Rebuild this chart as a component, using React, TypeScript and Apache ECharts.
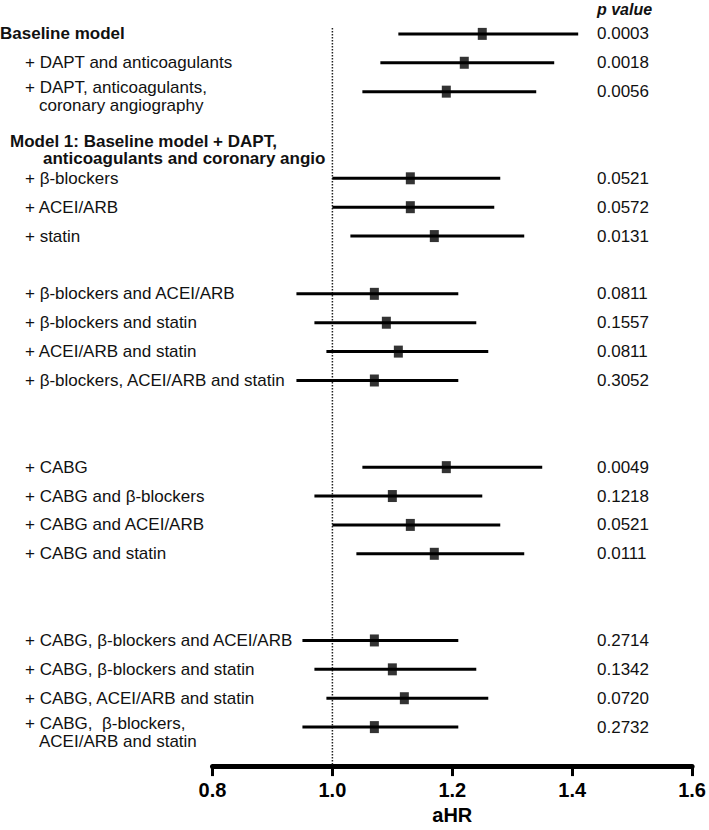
import React, { useEffect, useRef } from "react";
import * as echarts from "echarts";

const FONT = '"Liberation Sans", Arial, Helvetica, sans-serif';

const rowLabels: string[] = [
  "Baseline model",
  "+ DAPT and anticoagulants",
  "+ DAPT, anticoagulants,\ncoronary angiography",
  "+ β-blockers",
  "+ ACEI/ARB",
  "+ statin",
  "+ β-blockers and ACEI/ARB",
  "+ β-blockers and statin",
  "+ ACEI/ARB and statin",
  "+ β-blockers, ACEI/ARB and statin",
  "+ CABG",
  "+ CABG and β-blockers",
  "+ CABG and ACEI/ARB",
  "+ CABG and statin",
  "+ CABG, β-blockers and ACEI/ARB",
  "+ CABG, β-blockers and statin",
  "+ CABG, ACEI/ARB and statin",
  "+ CABG,  β-blockers,\nACEI/ARB and statin",
];
const rowIndex: number[] = [0, 1, 2, 5, 6, 7, 9, 10, 11, 12, 15, 16, 17, 18, 21, 22, 23, 24];
const hr: number[] = [1.25, 1.22, 1.19, 1.13, 1.13, 1.17, 1.07, 1.09, 1.11, 1.07, 1.19, 1.1, 1.13, 1.17, 1.07, 1.1, 1.12, 1.07];
const ciLow: number[] = [1.11, 1.08, 1.05, 1.0, 1.0, 1.03, 0.94, 0.97, 0.99, 0.94, 1.05, 0.97, 1.0, 1.04, 0.95, 0.97, 0.99, 0.95];
const ciHigh: number[] = [1.41, 1.37, 1.34, 1.28, 1.27, 1.32, 1.21, 1.24, 1.26, 1.21, 1.35, 1.25, 1.28, 1.32, 1.21, 1.24, 1.26, 1.21];
const pValues: string[] = [
  "0.0003", "0.0018", "0.0056", "0.0521", "0.0572", "0.0131", "0.0811", "0.1557", "0.0811",
  "0.3052", "0.0049", "0.1218", "0.0521", "0.0111", "0.2714", "0.1342", "0.0720", "0.2732",
];
const headerText = "Model 1: Baseline model + DAPT,\nanticoagulants and coronary angio";
const headerRow = 4;
const xTicks: number[] = [0.8, 1.0, 1.2, 1.4, 1.6];
const refValue = 1.0;
const pHeader = "p value";
const xName = "aHR";

export default function App() {
  const ref = useRef<HTMLDivElement>(null);
  useEffect(() => {
    if (!ref.current) return;
    const chart = echarts.init(ref.current, undefined, { renderer: "svg" });
    const txt = "#111";
    const option: any = {
      animation: false,
      backgroundColor: "#fff",
      grid: { left: 212.5, right: 14.5, top: 5, bottom: 61 },
      xAxis: {
        type: "value",
        position: "bottom",
        min: xTicks[0],
        max: xTicks[xTicks.length - 1],
        interval: 0.2,
        splitLine: { show: false },
        axisLine: { show: true, onZero: false, lineStyle: { color: "#000", width: 5 } },
        axisTick: { show: true, length: 10, lineStyle: { color: "#000", width: 3 } },
        axisLabel: {
          formatter: (v: number) => v.toFixed(1),
          color: "#000",
          fontFamily: FONT,
          fontWeight: "bold",
          fontSize: 20,
          margin: 14,
        },
        name: xName,
        nameLocation: "middle",
        nameGap: 38,
        nameTextStyle: { color: "#000", fontFamily: FONT, fontWeight: "bold", fontSize: 20 },
      },
      yAxis: {
        type: "value",
        inverse: true,
        min: -1,
        max: 25.35,
        show: false,
      },
      graphic: [
        {
          type: "text",
          x: 597,
          y: 9,
          style: {
            text: pHeader,
            font: `italic bold 16px ${FONT}`,
            fill: txt,
            verticalAlign: "middle",
          },
        },
      ],
      series: [
        {
          type: "line",
          data: [
            [refValue, -0.2],
            [refValue, 25.35],
          ],
          symbol: "none",
          silent: true,
          lineStyle: { type: "dotted", width: 1.5, color: "#222" },
          z: 1,
        },
        {
          type: "custom",
          clip: false,
          encode: { x: [0, 1], y: 2 },
          data: rowIndex.map((r, i) => [ciLow[i], ciHigh[i], r]),
          renderItem: (params: any, api: any) => {
            const a = api.coord([api.value(0), api.value(2)]);
            const b = api.coord([api.value(1), api.value(2)]);
            return {
              type: "line",
              shape: { x1: a[0], y1: a[1], x2: b[0], y2: b[1] },
              style: { stroke: "#000", lineWidth: 3 },
            };
          },
          z: 2,
        },
        {
          type: "scatter",
          data: rowIndex.map((r, i) => [hr[i], r]),
          symbol: "rect",
          symbolSize: [9, 12],
          itemStyle: { color: "#000" },
          z: 3,
        },
        {
          type: "custom",
          clip: false,
          encode: { x: 0, y: 1 },
          data: rowIndex.map((r, i) => [xTicks[0], r, i]),
          renderItem: (params: any, api: any) => {
            const i = api.value(2);
            const y = api.coord([api.value(0), api.value(1)])[1];
            const lines = rowLabels[i].split("\n");
            const bold = i === 0;
            const x0 = bold ? 0 : 25;
            const multi = lines.length > 1;
            const children: any[] = lines.map((t, k) => ({
              type: "text",
              x: k === 0 ? x0 : x0 + 14,
              y: multi ? y - 4 + k * 18 : y,
              style: {
                text: t,
                font: `${bold ? "bold " : ""}17px ${FONT}`,
                fill: txt,
                align: "left",
                verticalAlign: "middle",
              },
            }));
            children.push({
              type: "text",
              x: 597,
              y,
              style: {
                text: pValues[i],
                font: `17px ${FONT}`,
                fill: txt,
                align: "left",
                verticalAlign: "middle",
              },
            });
            return { type: "group", children };
          },
          z: 4,
        },
        {
          type: "custom",
          clip: false,
          encode: { x: 0, y: 1 },
          data: [[xTicks[0], headerRow]],
          renderItem: (params: any, api: any) => {
            const y = api.coord([api.value(0), api.value(1)])[1];
            const lines = headerText.split("\n");
            return {
              type: "group",
              children: lines.map((t, k) => ({
                type: "text",
                x: k === 0 ? 10 : 43,
                y: y - 8 + k * 17,
                style: {
                  text: t,
                  font: `bold 17px ${FONT}`,
                  fill: txt,
                  align: "left",
                  verticalAlign: "middle",
                },
              })),
            };
          },
          z: 4,
        },
      ],
    };
    chart.setOption(option);
    return () => chart.dispose();
  }, []);
  return (
    <div
      ref={ref}
      style={{ position: "absolute", left: 0, top: 0, width: 709, height: 830 }}
    />
  );
}
